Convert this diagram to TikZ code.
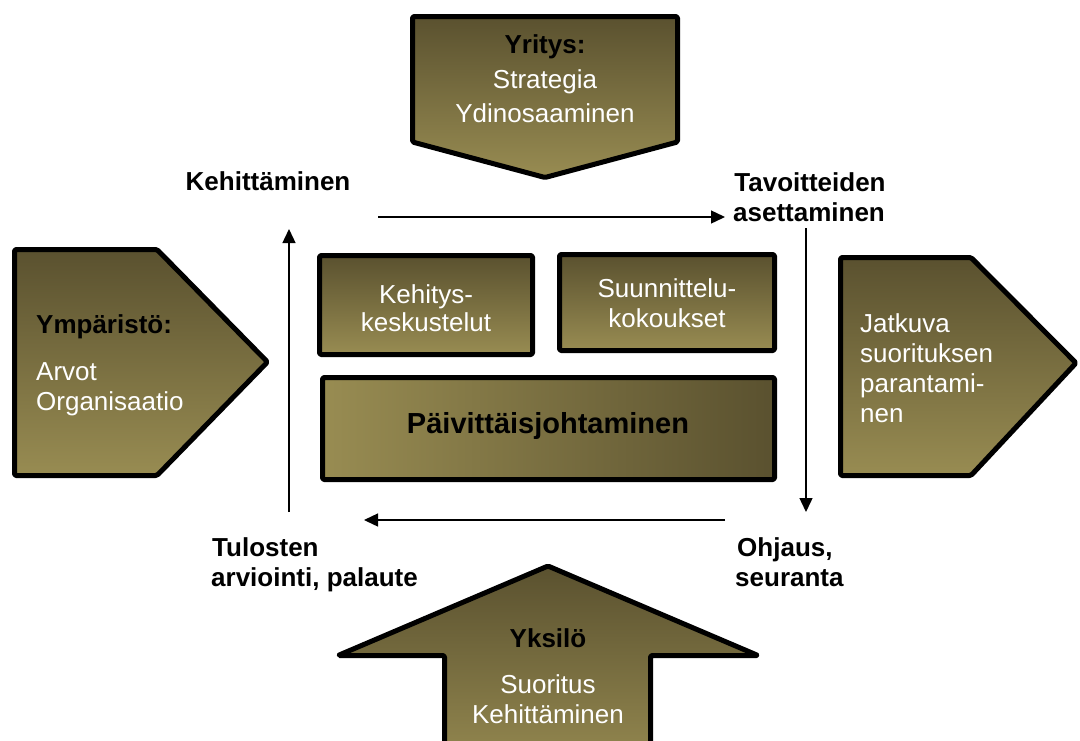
\documentclass[tikz,border=0pt]{standalone}
\usepackage{fontspec}
\setmainfont{Liberation Sans}
\usetikzlibrary{arrows.meta}
\definecolor{olivedark}{RGB}{90,81,47}
\definecolor{olivelight}{RGB}{152,140,82}
\begin{document}
\begin{tikzpicture}[x=1pt,y=-1pt,
  shapebox/.style={draw=black, line width=5pt, line join=round, rounded corners=1.5pt,
    top color=olivedark, bottom color=olivelight},
  boxst/.style={shapebox, inner sep=0pt, outer sep=0pt},
  txt/.style={font=\fontsize{26}{30}\selectfont, text=white, inner sep=0pt},
  hd/.style={font=\bfseries\fontsize{26}{30}\selectfont, text=black, inner sep=0pt},
  lbl/.style={font=\bfseries\fontsize{26}{30}\selectfont, text=black, inner sep=0pt},
  conn/.style={line width=1.4pt, -{Triangle[length=14pt,width=13pt]}}
]
\useasboundingbox (0,0) rectangle (1080,740);

% big shapes
\path[shapebox] (412.5,16.5) -- (677.5,16.5) -- (677.5,142) -- (545,177.5) -- (412.5,142) -- cycle;
\path[shapebox] (14.5,249.5) -- (157,249.5) -- (267.5,362) -- (157,475.5) -- (14.5,475.5) -- cycle;
\path[shapebox] (840.5,257.5) -- (971,257.5) -- (1076,363) -- (971,475.5) -- (840.5,475.5) -- cycle;
\path[shapebox] (444.5,780) -- (444.5,655.5) -- (338,655.5) -- (548,566) -- (758,655.5) -- (650.5,655.5) -- (650.5,780) -- cycle;

% boxes
\node[boxst, minimum width=213pt, minimum height=99pt] (kbox) at (426,305) {};
\node[boxst, minimum width=215pt, minimum height=96pt] (sbox) at (667,302.5) {};
\node[boxst, minimum width=452pt, minimum height=102pt, left color=olivelight, right color=olivedark] (pbox) at (548.5,428.5) {};

% texts in shapes
\node[hd, anchor=base] (yr1) at (545,53) {Yritys:};
\node[txt, anchor=base] (yr2) at (545,88) {Strategia};
\node[txt, anchor=base] (yr3) at (545,122) {Ydinosaaminen};

\node[hd, anchor=base west] (ym1) at (36,333) {Ympäristö:};
\node[txt, anchor=base west] (ym2) at (36,380) {Arvot};
\node[txt, anchor=base west] (ym3) at (36,410) {Organisaatio};

\node[txt, anchor=base west] (ja1) at (860,332) {Jatkuva};
\node[txt, anchor=base west] (ja2) at (860,362) {suorituksen};
\node[txt, anchor=base west] (ja3) at (860,392) {parantami-};
\node[txt, anchor=base west] (ja4) at (860,422) {nen};

\node[hd, anchor=base] (yk1) at (548,647) {Yksilö};
\node[txt, anchor=base] (yk2) at (548,693) {Suoritus};
\node[txt, anchor=base] (yk3) at (548,723) {Kehittäminen};

\node[txt, anchor=base] (kb1) at (426,303) {Kehitys-};
\node[txt, anchor=base] (kb2) at (426,331) {keskustelut};
\node[txt, anchor=base] (sb1) at (667,297) {Suunnittelu-};
\node[txt, anchor=base] (sb2) at (667,327) {kokoukset};
\node[hd, font=\bfseries\fontsize{29}{32}\selectfont, anchor=base] (pb1) at (548,433) {Päivittäisjohtaminen};

% cycle labels
\node[lbl, anchor=base] (l1) at (268,190) {Kehittäminen};
\node[lbl, anchor=base] (l2a) at (810,191) {Tavoitteiden};
\node[lbl, anchor=base] (l2b) at (809,221) {asettaminen};
\node[lbl, anchor=base west] (l3a) at (212,556) {Tulosten};
\node[lbl, anchor=base west] (l3b) at (211,586) {arviointi, palaute};
\node[lbl, anchor=base west] (l4a) at (737,556) {Ohjaus,};
\node[lbl, anchor=base west] (l4b) at (735,586) {seuranta};

% connectors
\coordinate (c1s) at (289,512);
\coordinate (c1e) at (289,229);
\coordinate (c2s) at (378,217);
\coordinate (c2e) at (725,217);
\coordinate (c3s) at (806,228);
\coordinate (c3e) at (806,512);
\coordinate (c4s) at (725,520);
\coordinate (c4e) at (364,520);
\draw[conn] (c1s) -- (c1e);
\draw[conn] (c2s) -- (c2e);
\draw[conn] (c3s) -- (c3e);
\draw[conn] (c4s) -- (c4e);
\end{tikzpicture}
\end{document}
